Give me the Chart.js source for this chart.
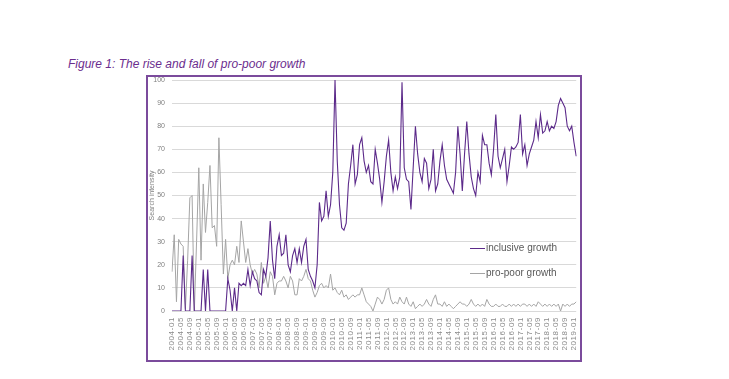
<!DOCTYPE html>
<html>
<head>
<meta charset="utf-8">
<script src="https://cdn.jsdelivr.net/npm/chart.js@4.4.1/dist/chart.umd.min.js"></script>
<style>
  html, body { margin: 0; padding: 0; background: #ffffff; }
  #wrap { position: relative; width: 729px; height: 379px; overflow: hidden; background: #fff; }
  #title { position: absolute; left: 68px; top: 57px; font: italic 12px "Liberation Sans", Arial, sans-serif; color: #6b2d8e; white-space: nowrap; }
  #frame { position: absolute; left: 146px; top: 75px; width: 436px; height: 287px; border: 2px solid #7b4b9c; box-sizing: border-box; }
  #c { position: absolute; left: 0; top: 0; }
  .leg { position: absolute; font: 10px "Liberation Sans", Arial, sans-serif; color: #595959; white-space: nowrap; line-height: 12px; }
  .legline { position: absolute; height: 1px; width: 15px; }
</style>
</head>
<body>
<div id="wrap">
  <div id="title">Figure 1: The rise and fall of pro-poor growth</div>
  <div id="frame"></div>
  <canvas id="c" width="729" height="379"></canvas>
  <div class="legline" style="left:470px; top:248px; background:#5c2a8a;"></div>
  <div class="leg" style="left:486px; top:242px;">inclusive growth</div>
  <div class="legline" style="left:470px; top:273px; background:#a5a5a5;"></div>
  <div class="leg" style="left:486px; top:267px;">pro-poor growth</div>
</div>
<script>
// Monthly categories 2004-01 .. 2019-02
const startYear = 2004;
const monthCount = 182;
const months = [];
for (let k = 0; k < monthCount; k++) {
  const y = startYear + Math.floor(k / 12);
  const m = (k % 12) + 1;
  months.push(y + '-' + (m < 10 ? '0' + m : '' + m));
}

// Search intensity, "inclusive growth" (one row per year)
const inclusiveGrowth = [
  0,0,0,0,0,24,0,0,0,24,0,0,          // 2004
  0,0,18,0,18,0,0,0,0,0,0,0,          // 2005
  0,14,9,0,10,0,12,11,12,11,18,11,    // 2006
  17,14,13,8,7,18,15,23,39,22,14,28,  // 2007
  33,24,25,33,20,17,24,27,21,27,21,28,// 2008
  31,18,15,13,10,20,47,39,41,52,41,46,// 2009
  60,100,65,46,36,35,38,55,63,72,55,59,// 2010
  72,75,65,60,63,56,55,70,64,57,47,56,// 2011
  67,74,60,52,58,53,58,99,62,57,56,44,// 2012
  62,80,68,60,56,66,64,53,57,70,52,55,// 2013
  65,72,63,57,55,53,51,60,80,68,52,68,// 2014
  82,68,58,53,50,60,56,76,72,72,64,59,// 2015
  70,85,67,62,66,70,56,63,71,70,71,73,// 2016
  85,68,72,63,68,71,74,82,75,85,77,78,// 2017
  82,78,80,79,82,89,92,90,88,80,78,80,// 2018
  73,67                               // 2019
];

// Search intensity, "pro-poor growth"
const proPoorGrowth = [
  17,33,4,31,29,28,1,22,49,50,0,30,   // 2004
  62,22,55,34,47,63,36,37,28,75,46,16,// 2005
  31,14,20,22,20,28,21,39,30,21,27,20,// 2006
  16,18,16,10,21,12,15,10,17,15,7,12, // 2007
  13,13,15,13,10,15,13,7,7,14,13,15,  // 2008
  18,14,13,9,6,8,11,12,10,11,10,16,   // 2009
  9,10,8,7,9,6,7,5,6,7,6,7,           // 2010
  7,10,7,4,3,2,0,3,6,5,3,5,           // 2011
  9,10,5,3,4,3,6,4,3,6,3,2,           // 2012
  4,1,2,3,2,3,5,3,2,5,7,3,            // 2013
  3,2,4,2,3,2,1,2,3,4,3,3,            // 2014
  2,3,5,3,2,3,2,3,2,5,3,2,            // 2015
  2,3,2,2,3,2,2,3,2,3,2,3,            // 2016
  2,3,3,2,3,2,3,2,4,3,2,3,            // 2017
  2,3,2,3,2,3,0,3,2,3,2,3,            // 2018
  3,4                                 // 2019
];

const yTicks = [0,10,20,30,40,50,60,70,80,90,100];
const labelEvery = 4;

const FONT = '"Liberation Sans", Arial, sans-serif';

new Chart(document.getElementById('c'), {
  type: 'line',
  data: {
    labels: months,
    datasets: [
      { label: 'inclusive growth', data: inclusiveGrowth, borderColor: '#5c2a8a', borderWidth: 1.1, pointRadius: 0, tension: 0, fill: false },
      { label: 'pro-poor growth', data: proPoorGrowth, borderColor: '#a5a5a5', borderWidth: 1, pointRadius: 0, tension: 0, fill: false }
    ]
  },
  options: {
    responsive: false,
    animation: false,
    events: [],
    layout: { padding: { left: 146, top: 80, right: 152.8, bottom: 23 } },
    plugins: { legend: { display: false }, tooltip: { enabled: false } },
    scales: {
      x: {
        type: 'category',
        grid: { display: false, drawTicks: false },
        border: { display: false },
        ticks: {
          autoSkip: false, minRotation: 90, maxRotation: 90, padding: 6,
          font: { family: FONT, size: 8 }, color: '#8a8a8a',
          callback: function (value, index) { return index % labelEvery === 0 ? months[index] : ''; }
        },
        afterFit: function (s) {
          s.height = 45;
          if (!s._spaced) {
            const orig = s.drawLabels;
            s.drawLabels = function (area) {
              const ctx = this.ctx;
              ctx.save();
              ctx.letterSpacing = '0.6px';
              orig.call(this, area);
              ctx.restore();
            };
            s._spaced = true;
          }
        }
      },
      y: {
        min: 0, max: 100,
        afterBuildTicks: function (s) { s.ticks = yTicks.map(v => ({ value: v })); },
        grid: { color: '#d9d9d9', lineWidth: 1, drawTicks: false },
        border: { display: false },
        ticks: { padding: 7, font: { family: FONT, size: 7 }, color: '#808080' },
        title: { display: true, text: 'Search intensity', font: { family: FONT, size: 7 }, color: '#808080', padding: { top: 2, bottom: 0 } },
        afterFit: function (s) { s.width = 26; }
      }
    }
  }
});
</script>
</body>
</html>
